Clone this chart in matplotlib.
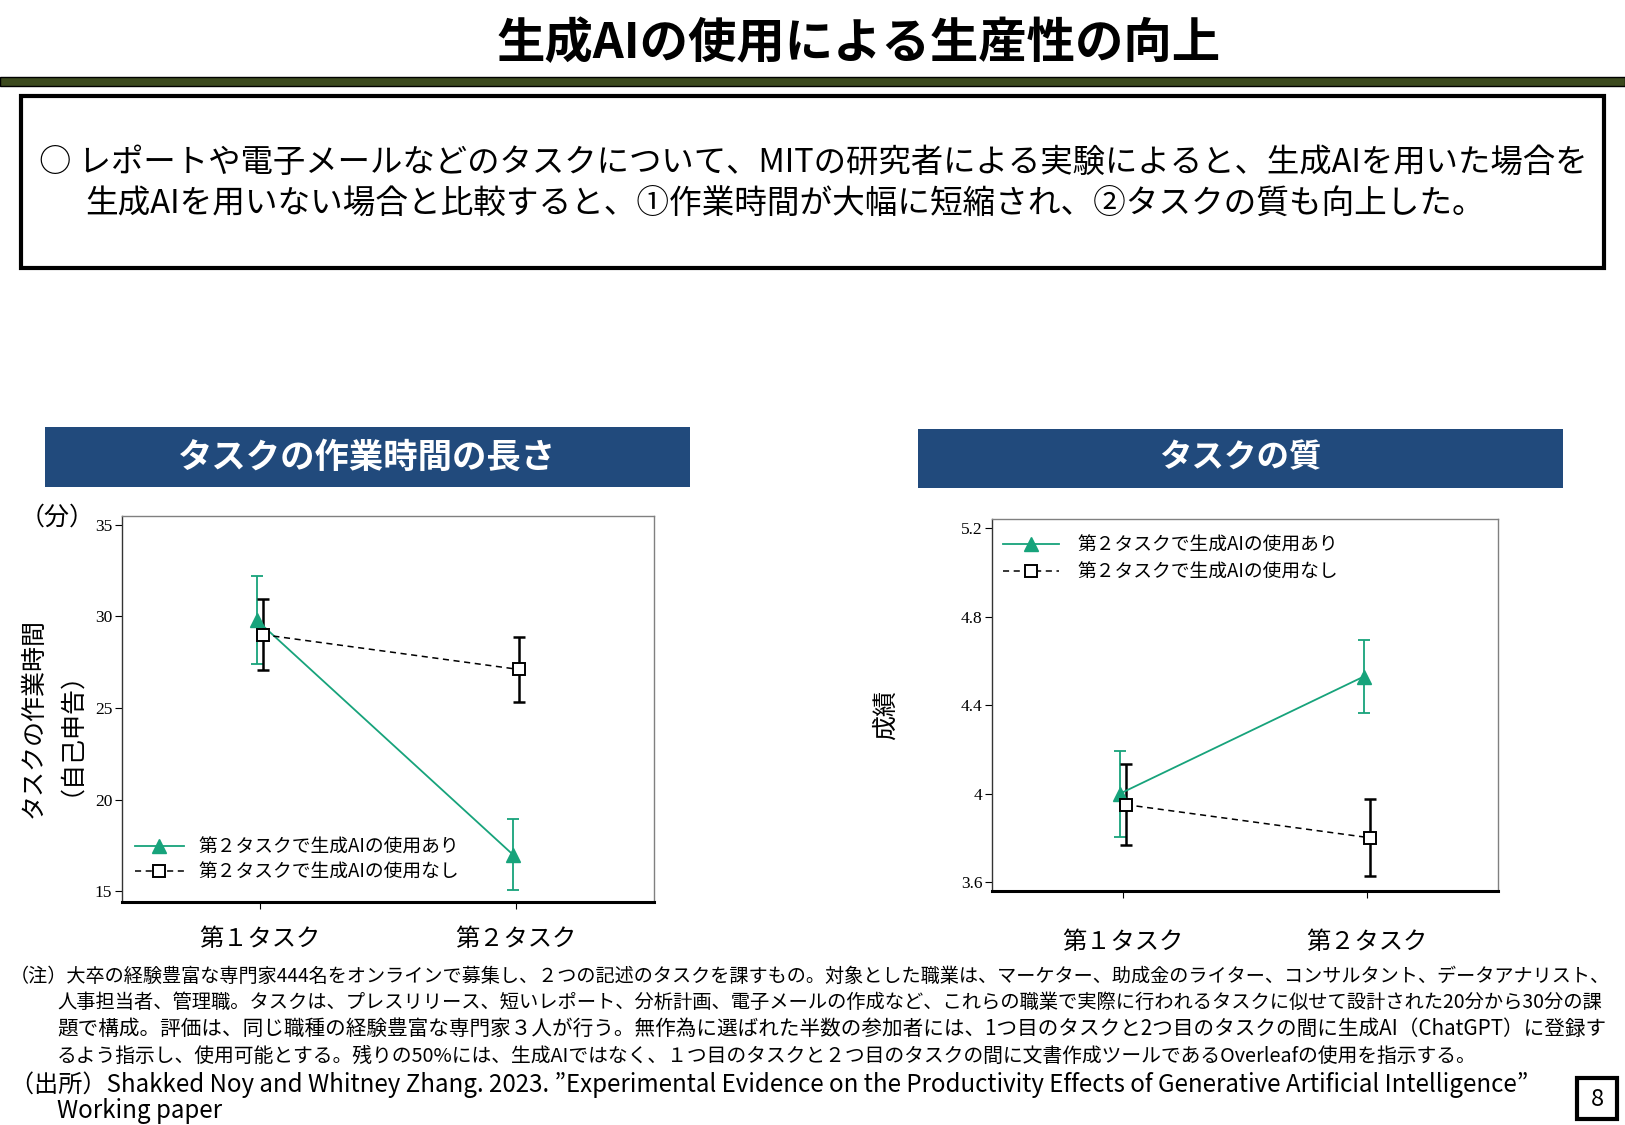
import numpy as np
import matplotlib
matplotlib.use("Agg")
import matplotlib.pyplot as plt
from matplotlib.patches import Rectangle

# ---------------- data ----------------
tasks = ["第１タスク", "第２タスク"]
series_labels = ["第２タスクで生成AIの使用あり", "第２タスクで生成AIの使用なし"]

time_ai = [29.8, 17.0]
time_ai_err = [2.4, 1.95]
time_noai = [29.0, 27.1]
time_noai_err = [1.95, 1.75]

quality_ai = [4.00, 4.53]
quality_ai_err = [0.195, 0.165]
quality_noai = [3.95, 3.80]
quality_noai_err = [0.185, 0.175]

time_ticks = [15, 20, 25, 30, 35]
time_ticklabels = ["15", "20", "25", "30", "35"]
quality_ticks = [3.6, 4.0, 4.4, 4.8, 5.2]
quality_ticklabels = ["3.6", "4", "4.4", "4.8", "5.2"]

title = "生成AIの使用による生産性の向上"
summary_lines = [
    "○ レポートや電子メールなどのタスクについて、MITの研究者による実験によると、生成AIを用いた場合を",
    "生成AIを用いない場合と比較すると、①作業時間が大幅に短縮され、②タスクの質も向上した。",
]
panel_titles = ["タスクの作業時間の長さ", "タスクの質"]
ylabel_time = ["タスクの作業時間", "（自己申告）"]
ylabel_quality = "成績"
unit_label = "（分）"
note_lines = [
    "（注）大卒の経験豊富な専門家444名をオンラインで募集し、２つの記述のタスクを課すもの。対象とした職業は、マーケター、助成金のライター、コンサルタント、データアナリスト、",
    "人事担当者、管理職。タスクは、プレスリリース、短いレポート、分析計画、電子メールの作成など、これらの職業で実際に行われるタスクに似せて設計された20分から30分の課",
    "題で構成。評価は、同じ職種の経験豊富な専門家３人が行う。無作為に選ばれた半数の参加者には、1つ目のタスクと2つ目のタスクの間に生成AI（ChatGPT）に登録す",
    "るよう指示し、使用可能とする。残りの50%には、生成AIではなく、１つ目のタスクと２つ目のタスクの間に文書作成ツールであるOverleafの使用を指示する。",
    "（出所）Shakked Noy and Whitney Zhang. 2023. ”Experimental Evidence on the Productivity Effects of Generative Artificial Intelligence”",
    "Working paper",
]
page_number = "8"

# ---------------- style ----------------
JP = ["Noto Sans CJK JP", "DejaVu Sans"]
plt.rcParams["font.family"] = JP
GREEN = "#17a37b"
BLUE = "#214a7c"
OLIVE = "#3c4a1e"

W, H = 1625, 1125
fig = plt.figure(figsize=(W / 100, H / 100), dpi=100)
renderer = fig.canvas.get_renderer()


def fx(x):
    return x / W


def fy(y):
    return 1 - y / H


def rect(x0, y0, x1, y1, **kw):
    r = Rectangle((fx(x0), fy(y1)), fx(x1) - fx(x0), fy(y0) - fy(y1),
                  transform=fig.transFigure, **kw)
    fig.add_artist(r)
    return r


def fit_text(x, y, s, width, ha="left", fs0=14, **kw):
    t = fig.text(fx(x), fy(y), s, ha=ha, va="center", fontsize=fs0, **kw)
    bb = t.get_window_extent(renderer)
    t.set_fontsize(fs0 * width / bb.width)
    return t


# ---------------- page decoration ----------------
fit_text(859, 44, title, 724, ha="center", fs0=30, fontweight="bold")
rect(0, 77, W, 86, facecolor=OLIVE, edgecolor="black", lw=1)
rect(21, 96, 1604, 268, facecolor="none", edgecolor="black", lw=3)
fit_text(39, 163, summary_lines[0], 1549, fs0=20)
fit_text(85, 204, summary_lines[1], 1399, fs0=20)

rect(45, 427, 690, 487, facecolor=BLUE, edgecolor="none")
rect(918, 429, 1563, 488, facecolor=BLUE, edgecolor="none")
fit_text(367, 457, panel_titles[0], 377, ha="center", fs0=22, color="white", fontweight="bold")
fit_text(1240, 458, panel_titles[1], 162, ha="center", fs0=22, color="white", fontweight="bold")

# ---------------- panels ----------------
x = np.arange(1, len(tasks) + 1)
off = 0.012


def panel(ax, ai, ai_err, noai, noai_err, ticks, ticklabels, ylim):
    ax.errorbar(x - off, ai, yerr=ai_err, fmt="none", ecolor=GREEN, elinewidth=1.3,
                capsize=4, capthick=1.3, zorder=2)
    ax.errorbar(x + off, noai, yerr=noai_err, fmt="none", ecolor="black", elinewidth=1.8,
                capsize=4, capthick=1.8, zorder=2)
    l1, = ax.plot(x - off, ai, color=GREEN, lw=1.3, marker="^", markersize=10,
                  markerfacecolor=GREEN, markeredgecolor=GREEN, label=series_labels[0], zorder=3)
    l2, = ax.plot(x + off, noai, color="black", lw=1.1, ls=(0, (4, 3)), marker="s", markersize=8,
                  markerfacecolor="white", markeredgecolor="black", markeredgewidth=1.4,
                  label=series_labels[1], zorder=4)
    ax.set_xlim(0.463, 2.538)
    ax.set_ylim(*ylim)
    ax.set_yticks(ticks)
    ax.set_yticklabels(ticklabels, fontfamily="Liberation Serif", fontsize=12.5)
    ax.set_xticks(x)
    ax.set_xticklabels(tasks, fontsize=17.5)
    ax.tick_params(axis="y", direction="out", length=5, width=0.8, pad=2)
    ax.tick_params(axis="x", direction="out", length=5, width=0.8)
    for s in ("top", "right"):
        ax.spines[s].set_color("#808080")
        ax.spines[s].set_linewidth(1.0)
    ax.spines["left"].set_color("#333333")
    ax.spines["left"].set_linewidth(1.0)
    ax.spines["bottom"].set_color("black")
    ax.spines["bottom"].set_linewidth(2.2)
    return l1, l2


ax1 = fig.add_axes([fx(122), fy(902), fx(654) - fx(122), fy(516) - fy(902)])
h = panel(ax1, time_ai, time_ai_err, time_noai, time_noai_err,
          time_ticks, time_ticklabels, (14.42, 35.47))
ax1.tick_params(axis="x", pad=12.5)
ax1.legend(handles=h, loc="lower left", bbox_to_anchor=(0.024, 0.05), frameon=False,
           fontsize=13.5, handlelength=2.6, handletextpad=0.8, labelspacing=0.22,
           borderpad=0, borderaxespad=0)

ax2 = fig.add_axes([fx(992), fy(891), fx(1498) - fx(992), fy(519) - fy(891)])
h2 = panel(ax2, quality_ai, quality_ai_err, quality_noai, quality_noai_err,
           quality_ticks, quality_ticklabels, (3.559, 5.243))
ax2.tick_params(axis="x", pad=22.5)
ax2.legend(handles=h2, loc="upper left", bbox_to_anchor=(0.022, 0.957), frameon=False,
           fontsize=13.5, handlelength=3.0, handletextpad=0.95, labelspacing=0.29,
           borderpad=0, borderaxespad=0)

# axis labels
fig.text(fx(34), fy(718), ylabel_time[0], rotation=90, ha="center", va="center", fontsize=18)
fig.text(fx(58), fy(721), ylabel_time[1], rotation=90, ha="center", va="center", fontsize=18)
fig.text(fx(57), fy(518), unit_label, ha="center", va="center", fontsize=18)
fig.text(fx(886), fy(715), ylabel_quality, rotation=90, ha="center", va="center", fontsize=18)

# ---------------- notes ----------------
note_pos = [(10, 976, 1595), (57, 1002, 1544), (57, 1029, 1544), (57, 1056, 1420),
            (10, 1085, 1520), (57, 1111, None)]
fs_note = None
for (nx, ny, nw), s in zip(note_pos, note_lines):
    if nw is not None:
        t = fit_text(nx, ny, s, nw, fs0=13)
    else:
        t = fig.text(fx(nx), fy(ny), s, ha="left", va="center", fontsize=fs_note)
    fs_note = t.get_fontsize()

rect(1577, 1078, 1617, 1119, facecolor="white", edgecolor="black", lw=3)
fig.text(fx(1597), fy(1099), page_number, ha="center", va="center", fontsize=17)

fig.savefig("out.png", dpi=100)
